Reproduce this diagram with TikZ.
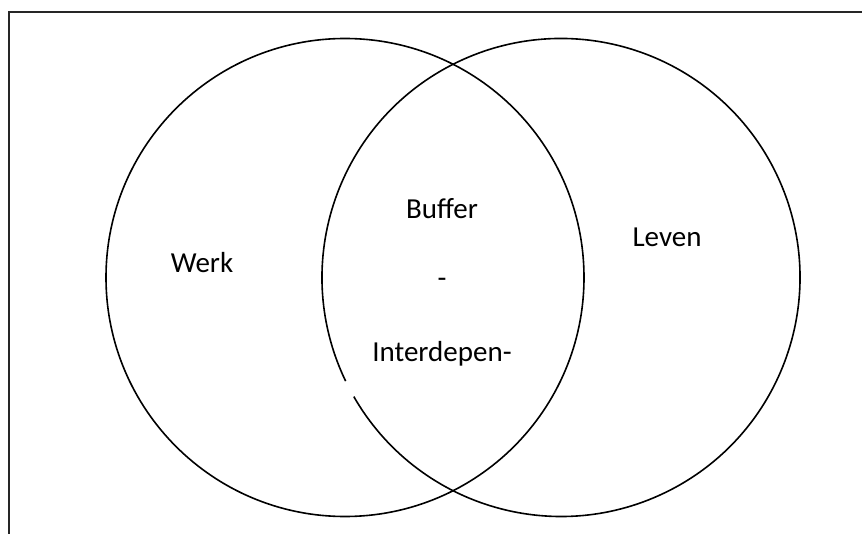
\documentclass[tikz,border=0pt]{standalone}
\usepackage{fontspec}
\setmainfont{Carlito}
\usepackage{tikz}
\usetikzlibrary{positioning}
\tikzset{
		ring/.style={draw, line width=1.6pt},
		frame/.style={draw=black!85, line width=2pt},
		label text/.style={font=\fontsize{29}{35}\selectfont, inner sep=0pt}
	}

\begin{document}
\begin{tikzpicture}[x=1pt,y=-1pt]
		\useasboundingbox (0,0) rectangle (862,534);
		\draw[frame] (9,534) -- (9,12) -- (862,12);

		\coordinate (werkc)  at (345,277.5);
		\coordinate (levenc) at (561,277.5);

		\draw[ring] (werkc) circle (239);
		\draw[ring] (levenc) ++(154.3:239) arc[start angle=154.3, end angle=510.1, radius=239];

		\node[label text] (werk)   at (202,263) {Werk};
		\node[label text] (leven)  at (667,237) {Leven};
		\node[label text] (buffer) at (442,209) {Buffer};
		\node[label text] (dash)   at (442,283) {-};
		\node[label text] (inter)  at (442,354) {Interdepen-};
	\end{tikzpicture}
\end{document}
